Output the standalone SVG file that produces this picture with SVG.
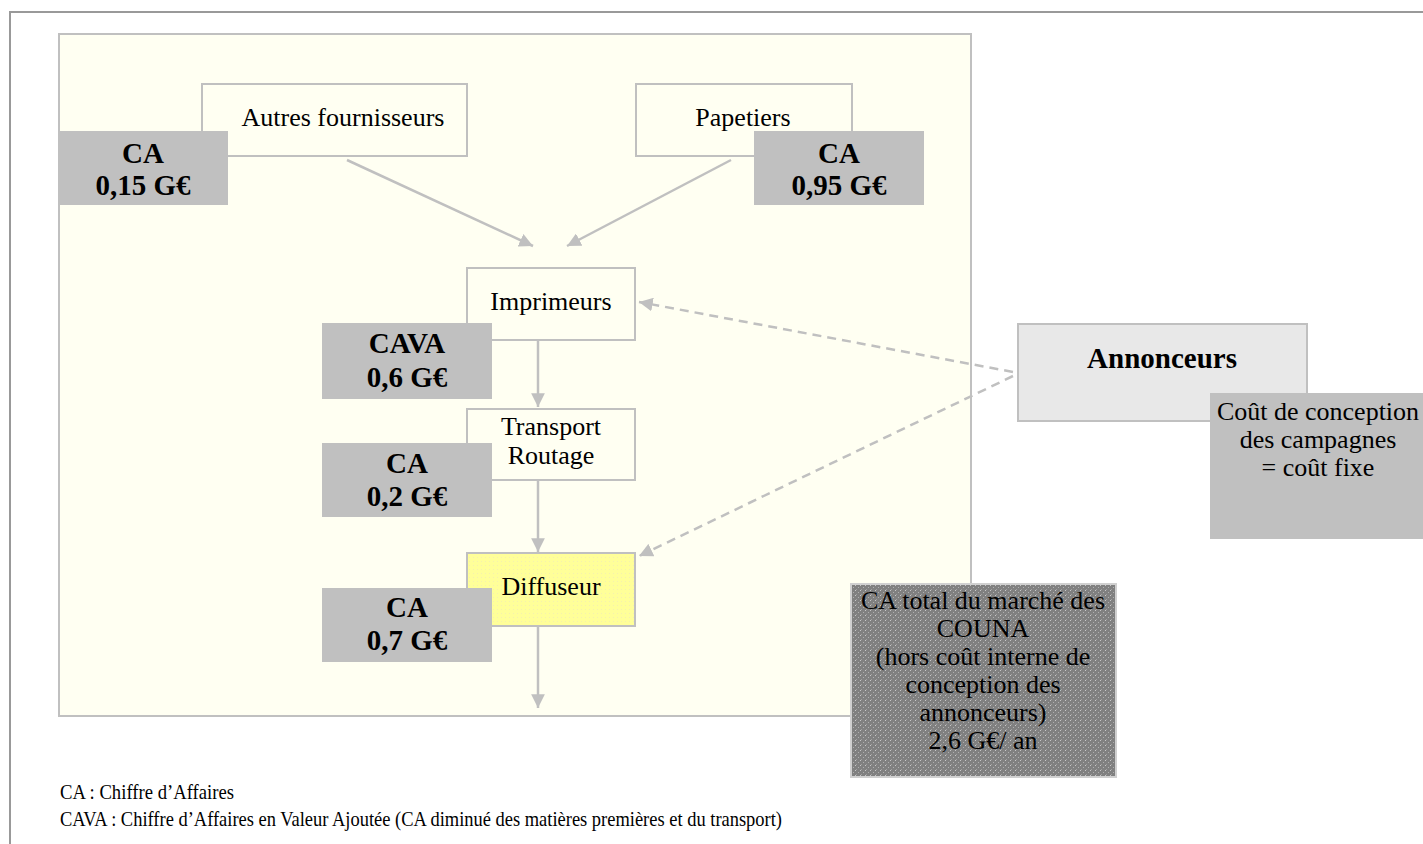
<svg xmlns="http://www.w3.org/2000/svg" width="1423" height="844" viewBox="0 0 1423 844">
<defs>
<marker id="ah" viewBox="0 0 10 10" refX="10" refY="5" markerWidth="5.5" markerHeight="5.5" orient="auto" markerUnits="strokeWidth">
<path d="M0,0 L10,5 L0,10 z" fill="#c0c0c0"/>
</marker>
<pattern id="speck" width="5" height="5" patternUnits="userSpaceOnUse">
<rect width="5" height="5" fill="#808080"/>
<rect x="0" y="0" width="1" height="1" fill="#c8c8c8"/>
<rect x="3" y="2" width="1" height="1" fill="#b0b0b0"/>
<rect x="1" y="4" width="1" height="1" fill="#a0a0a0"/>
</pattern>
<pattern id="yspeck" width="4" height="4" patternUnits="userSpaceOnUse">
<rect width="4" height="4" fill="#ffff99"/>
<rect x="1" y="1" width="1" height="1" fill="#f4f0b0"/>
</pattern>
</defs>
<style>
.t{font-family:"Liberation Serif","Times New Roman",serif;font-size:26px;fill:#000;text-anchor:middle}
.b{font-family:"Liberation Serif","Times New Roman",serif;font-size:29px;font-weight:bold;fill:#000;text-anchor:middle}
.l{font-family:"Liberation Serif","Times New Roman",serif;font-size:21px;fill:#000}
.node{fill:#fffff2;stroke:#c0c0c0;stroke-width:2}
.val{fill:#c0c0c0}
.c{fill:none;stroke:#c0c0c0;stroke-width:2.5}
.d{fill:none;stroke:#c0c0c0;stroke-width:2.5;stroke-dasharray:9,6}
</style>
<rect width="1423" height="844" fill="#fff"/>
<path d="M1423,12 H10 V844" fill="none" stroke="#999" stroke-width="2"/>
<rect id="panel" x="59" y="34" width="912" height="682" fill="#fffff2" stroke="#c0c0c0" stroke-width="2"/>

<g id="connectors">
<line class="c" x1="347" y1="160" x2="533" y2="246" marker-end="url(#ah)"/>
<line class="c" x1="731" y1="160" x2="567" y2="246" marker-end="url(#ah)"/>
<line class="c" x1="538" y1="340" x2="538" y2="407" marker-end="url(#ah)"/>
<line class="c" x1="538" y1="481" x2="538" y2="552" marker-end="url(#ah)"/>
<line class="c" x1="538" y1="627" x2="538" y2="708" marker-end="url(#ah)"/>
<line class="d" x1="1013" y1="372" x2="639" y2="302" marker-end="url(#ah)"/>
<line class="d" x1="1013" y1="376" x2="639" y2="556" marker-end="url(#ah)"/>
</g>

<g id="autres">
<rect class="node" x="202" y="84" width="265" height="72"/>
<text class="t" x="343" y="126">Autres fournisseurs</text>
</g>
<g id="ca-autres">
<rect class="val" x="58" y="131" width="170" height="74"/>
<text class="b" x="143" y="163">CA</text>
<text class="b" x="143" y="195">0,15 G€</text>
</g>

<g id="papetiers">
<rect class="node" x="636" y="84" width="216" height="72"/>
<text class="t" x="743" y="126">Papetiers</text>
</g>
<g id="ca-papetiers">
<rect class="val" x="754" y="131" width="170" height="74"/>
<text class="b" x="839" y="163">CA</text>
<text class="b" x="839" y="195">0,95 G€</text>
</g>

<g id="imprimeurs">
<rect class="node" x="467" y="268" width="168" height="72"/>
<text class="t" x="551" y="310">Imprimeurs</text>
</g>
<g id="cava-imprimeurs">
<rect class="val" x="322" y="323" width="170" height="76"/>
<text class="b" x="407" y="353">CAVA</text>
<text class="b" x="407" y="387">0,6 G€</text>
</g>

<g id="transport">
<rect class="node" x="467" y="409" width="168" height="71"/>
<text class="t" x="551" y="435">Transport</text>
<text class="t" x="551" y="464">Routage</text>
</g>
<g id="ca-transport">
<rect class="val" x="322" y="443" width="170" height="74"/>
<text class="b" x="407" y="473">CA</text>
<text class="b" x="407" y="506">0,2 G€</text>
</g>

<g id="diffuseur">
<rect x="467" y="553" width="168" height="73" fill="url(#yspeck)" stroke="#c0c0c0" stroke-width="2"/>
<text class="t" x="551" y="595">Diffuseur</text>
</g>
<g id="ca-diffuseur">
<rect class="val" x="322" y="588" width="170" height="74"/>
<text class="b" x="407" y="617">CA</text>
<text class="b" x="407" y="650">0,7 G€</text>
</g>

<g id="annonceurs">
<rect x="1018" y="324" width="289" height="97" fill="#e8e8e8" stroke="#c0c0c0" stroke-width="2"/>
<text class="b" x="1162" y="368">Annonceurs</text>
</g>
<g id="cout">
<rect class="val" x="1210" y="393" width="213" height="146"/>
<text class="t" x="1318" y="420">Coût de conception</text>
<text class="t" x="1318" y="448">des campagnes</text>
<text class="t" x="1318" y="476">= coût fixe</text>
</g>

<g id="total">
<rect x="851" y="584" width="265" height="193" fill="url(#speck)" stroke="#d0d0d0" stroke-width="2"/>
<text class="t" x="983" y="609">CA total du marché des</text>
<text class="t" x="983" y="637">COUNA</text>
<text class="t" x="983" y="665">(hors coût interne de</text>
<text class="t" x="983" y="693">conception des</text>
<text class="t" x="983" y="721">annonceurs)</text>
<text class="t" x="983" y="749">2,6 G€/ an</text>
</g>

<g id="legend">
<text class="l" x="60" y="799" textLength="174" lengthAdjust="spacingAndGlyphs">CA : Chiffre d’Affaires</text>
<text class="l" x="60" y="826" textLength="722" lengthAdjust="spacingAndGlyphs">CAVA : Chiffre d’Affaires en Valeur Ajoutée (CA diminué des matières premières et du transport)</text>
</g>
</svg>
